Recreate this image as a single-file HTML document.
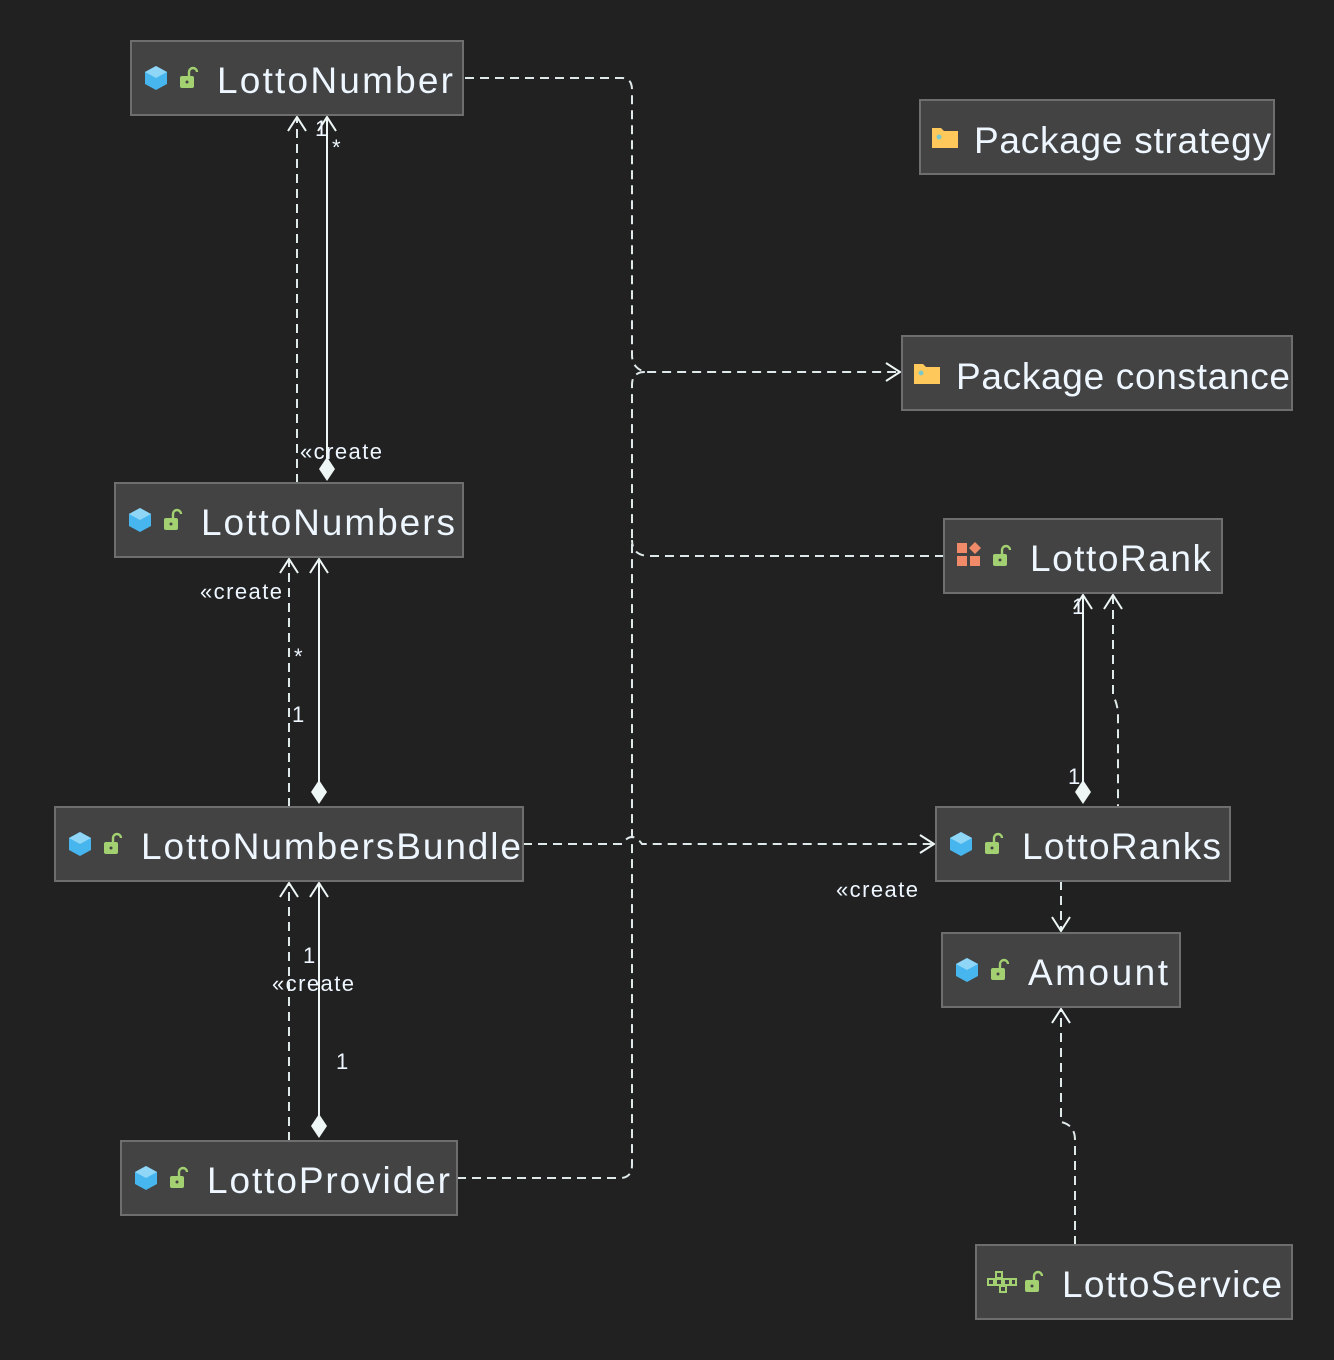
<!DOCTYPE html>
<html><head><meta charset="utf-8"><style>
html,body{margin:0;padding:0;background:#212121;}
svg{display:block}
text{font-family:"Liberation Sans",sans-serif;fill:#eef6ff}
.bx{fill:#434343;stroke:#6e6e6e;stroke-width:2}
.t{font-size:37px}
.l{font-size:22px}
.d{fill:none;stroke:#dfe9ea;stroke-width:2;stroke-dasharray:9,6}
.s{fill:none;stroke:#eef6f6;stroke-width:2}
.a{fill:none;stroke:#eef6f6;stroke-width:2}
</style></head><body>
<svg width="1334" height="1360" viewBox="0 0 1334 1360" xmlns="http://www.w3.org/2000/svg">
<defs>
<g id="cube"><polygon points="0,-12 11,-6 11,6 0,12 -11,6 -11,-6" fill="#47b6ee"/><polygon points="0,-12 11,-6 0,0 -11,-6" fill="#8fd6f7"/></g>
<g id="lock"><rect x="-7" y="-4" width="14" height="12" rx="2" fill="#a3d171"/><path d="M2,-4 v-4 a4,4 0 0 1 8,0" fill="none" stroke="#a3d171" stroke-width="2.4"/><circle cx="0" cy="2" r="1.5" fill="#434343"/></g>
<g id="fold"><path d="M-13,-10 h9 l3,3 h14 v17 h-26z" fill="#ffc85a"/><circle cx="-6" cy="-1" r="2.5" fill="#7ec8c8"/></g>
</defs>

<path class="d" d="M465,78 H622 Q632,78 632,90 V355 Q632,368 645,372 H900"/>
<path class="a" d="M886,363 L900,372 L886,381"/>
<path class="d" d="M457,1178 H620 Q632,1178 632,1165 V385 Q632,372 645,372"/>
<path class="d" d="M944,556 H650 Q632,556 632,540"/>
<path class="d" d="M523,844 H622 Q632,830 642,844 H934"/>
<path class="a" d="M920,835 L934,844 L920,853"/>

<path class="d" d="M297,483 V117"/><path class="a" d="M288,131 L297,117 L306,131"/>
<path class="s" d="M327,470 V117"/><path class="a" d="M318,131 L327,117 L336,131"/>
<polygon points="327,457 335,469 327,481 319,469" fill="#eef6f6"/>

<path class="d" d="M289,807 V559"/><path class="a" d="M280,573 L289,559 L298,573"/>
<path class="s" d="M319,793 V559"/><path class="a" d="M310,573 L319,559 L328,573"/>
<polygon points="319,780 327,792 319,804 311,792" fill="#eef6f6"/>

<path class="d" d="M289,1141 V883"/><path class="a" d="M280,897 L289,883 L298,897"/>
<path class="s" d="M319,1127 V883"/><path class="a" d="M310,897 L319,883 L328,897"/>
<polygon points="319,1114 327,1126 319,1138 311,1126" fill="#eef6f6"/>

<path class="s" d="M1083,793 V595"/><path class="a" d="M1074,609 L1083,595 L1092,609"/>
<polygon points="1083,780 1091,792 1083,804 1075,792" fill="#eef6f6"/>
<path class="d" d="M1113,595 V695 Q1118,705 1118,715 V807"/><path class="a" d="M1104,609 L1113,595 L1122,609"/>

<path class="d" d="M1061,881 V931"/><path class="a" d="M1052,917 L1061,931 L1070,917"/>
<path class="d" d="M1075,1245 V1140 Q1075,1125 1061,1122 V1009"/><path class="a" d="M1052,1023 L1061,1009 L1070,1023"/>

<text class="l" x="300" y="459" textLength="82">«create</text>
<text class="l" x="315" y="136">1</text>
<text class="l" x="332" y="155">*</text>
<text class="l" x="200" y="599" textLength="82">«create</text>
<text class="l" x="294" y="664">*</text>
<text class="l" x="292" y="722">1</text>
<text class="l" x="303" y="963">1</text>
<text class="l" x="272" y="991" textLength="82">«create</text>
<text class="l" x="336" y="1069">1</text>
<text class="l" x="1072" y="614">1</text>
<text class="l" x="1068" y="784">1</text>
<text class="l" x="836" y="897" textLength="82">«create</text>

<rect class="bx" x="131" y="41" width="332" height="74"/>
<use href="#cube" x="156" y="78"/><use href="#lock" x="187" y="80"/>
<text class="t" x="217" y="93" textLength="236">LottoNumber</text>

<rect class="bx" x="920" y="100" width="354" height="74"/>
<use href="#fold" x="945" y="138"/>
<text class="t" x="974" y="153" textLength="297">Package strategy</text>

<rect class="bx" x="902" y="336" width="390" height="74"/>
<use href="#fold" x="927" y="374"/>
<text class="t" x="956" y="389" textLength="334">Package constance</text>

<rect class="bx" x="115" y="483" width="348" height="74"/>
<use href="#cube" x="140" y="520"/><use href="#lock" x="171" y="522"/>
<text class="t" x="201" y="535" textLength="254">LottoNumbers</text>

<rect class="bx" x="944" y="519" width="278" height="74"/>
<rect x="957" y="543" width="10" height="10" fill="#f08a68"/><rect x="957" y="556" width="10" height="10" fill="#f08a68"/><rect x="970" y="556" width="10" height="10" fill="#f08a68"/><polygon points="975,542 981,548 975,554 969,548" fill="#f08a68"/>
<use href="#lock" x="1000" y="558"/>
<text class="t" x="1030" y="571" textLength="181">LottoRank</text>

<rect class="bx" x="55" y="807" width="468" height="74"/>
<use href="#cube" x="80" y="844"/><use href="#lock" x="111" y="846"/>
<text class="t" x="141" y="859" textLength="380">LottoNumbersBundle</text>

<rect class="bx" x="936" y="807" width="294" height="74"/>
<use href="#cube" x="961" y="844"/><use href="#lock" x="992" y="846"/>
<text class="t" x="1022" y="859" textLength="199">LottoRanks</text>

<rect class="bx" x="942" y="933" width="238" height="74"/>
<use href="#cube" x="967" y="970"/><use href="#lock" x="998" y="972"/>
<text class="t" x="1028" y="985" textLength="140">Amount</text>

<rect class="bx" x="121" y="1141" width="336" height="74"/>
<use href="#cube" x="146" y="1178"/><use href="#lock" x="177" y="1180"/>
<text class="t" x="207" y="1193" textLength="243">LottoProvider</text>

<rect class="bx" x="976" y="1245" width="316" height="74"/>
<g fill="none" stroke="#a3d171" stroke-width="2"><rect x="996" y="1272" width="6" height="6"/><rect x="988" y="1279" width="6" height="6"/><rect x="996" y="1279" width="6" height="6"/><rect x="1004" y="1279" width="6" height="6"/><rect x="1011" y="1279" width="5" height="6"/><rect x="1000" y="1286" width="6" height="6"/></g>
<use href="#lock" x="1032" y="1284"/>
<text class="t" x="1062" y="1297" textLength="220">LottoService</text>
</svg>
</body></html>
